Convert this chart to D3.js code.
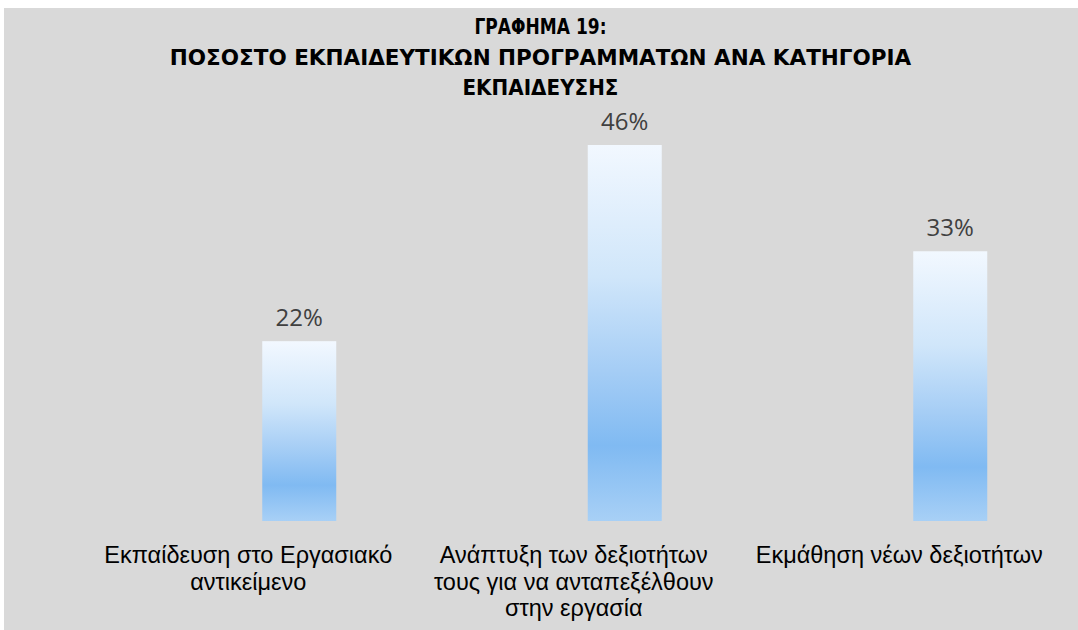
<!DOCTYPE html>
<html>
<head>
<meta charset="utf-8">
<script src="https://cdn.jsdelivr.net/npm/d3@7"></script>
<style>
html,body{margin:0;padding:0;background:#ffffff;}
svg{display:block;}
</style>
</head>
<body>
<svg id="chart" width="1078" height="630"></svg>
<script>
const titleLines = ["ΓΡΑΦΗΜΑ 19:", "ΠΟΣΟΣΤΟ ΕΚΠΑΙΔΕΥΤΙΚΩΝ ΠΡΟΓΡΑΜΜΑΤΩΝ ΑΝΑ ΚΑΤΗΓΟΡΙΑ", "ΕΚΠΑΙΔΕΥΣΗΣ"];
const categories = ["Εκπαίδευση στο Εργασιακό αντικείμενο", "Ανάπτυξη των δεξιοτήτων τους για να ανταπεξέλθουν στην εργασία", "Εκμάθηση νέων δεξιοτήτων"];
const categoryLines = [
  ["Εκπαίδευση στο Εργασιακό", "αντικείμενο"],
  ["Ανάπτυξη των δεξιοτήτων", "τους για να ανταπεξέλθουν", "στην εργασία"],
  ["Εκμάθηση νέων δεξιοτήτων"]
];
const values = [22, 46, 33];
const valueLabels = ["22%", "46%", "33%"];

const svg = d3.select("#chart");
const W = 1078, H = 630;

// background
svg.append("rect").attr("x", 4).attr("y", 8).attr("width", W - 4).attr("height", H - 8).attr("fill", "#d9d9d9");

const defs = svg.append("defs");
const grad = defs.append("linearGradient").attr("id", "barGrad").attr("x1", 0).attr("y1", 0).attr("x2", 0).attr("y2", 1);
[[0, "#f2f8ff"], [0.35, "#d0e6fa"], [0.6, "#a5cdf5"], [0.8, "#80baf2"], [1, "#a8d0f6"]].forEach(([o, c]) => {
  grad.append("stop").attr("offset", o).attr("stop-color", c);
});

const x = d3.scaleBand().domain(categories).range([136.5, 1113]).paddingInner(0).paddingOuter(0);
const y = d3.scaleLinear().domain([0, 46]).range([521, 145]);
const barW = 74;
const labelShift = -51;

// title
const title = svg.append("text").attr("text-anchor", "middle")
  .attr("font-family", "'DejaVu Sans', Verdana, sans-serif").attr("font-weight", "bold").attr("font-size", 21.5)
  .attr("fill", "#000");
const titleLens = [132, null, 156];
titleLines.forEach((t, i) => {
  const ts = title.append("tspan").attr("x", 540.5).attr("y", 34 + i * 30.5).text(t);
  if (titleLens[i]) ts.attr("textLength", titleLens[i]).attr("lengthAdjust", "spacingAndGlyphs");
});

// bars
svg.selectAll("rect.bar").data(values).enter().append("rect").attr("class", "bar")
  .attr("x", (d, i) => x(categories[i]) + x.bandwidth() / 2 - barW / 2)
  .attr("y", d => y(d))
  .attr("width", barW)
  .attr("height", d => y(0) - y(d))
  .attr("fill", "url(#barGrad)");

// value labels
svg.selectAll("text.val").data(values).enter().append("text").attr("class", "val")
  .attr("x", (d, i) => x(categories[i]) + x.bandwidth() / 2)
  .attr("y", d => y(d) - 15.5)
  .attr("text-anchor", "middle")
  .attr("font-family", "'Open Sans', 'Liberation Sans', Arial, sans-serif").attr("font-size", 24)
  .attr("fill", "#404040")
  .text((d, i) => valueLabels[i]);

// category labels
const catG = svg.selectAll("text.cat").data(categories).enter().append("text").attr("class", "cat")
  .attr("text-anchor", "middle")
  .attr("font-family", "'Liberation Sans', Arial, sans-serif").attr("font-size", 23.5)
  .attr("fill", "#000");
catG.each(function(d, i) {
  const cx = x(d) + x.bandwidth() / 2 + labelShift;
  categoryLines[i].forEach((line, j) => {
    d3.select(this).append("tspan").attr("x", cx).attr("y", 563 + j * 26.5).text(line);
  });
});
</script>
</body>
</html>
